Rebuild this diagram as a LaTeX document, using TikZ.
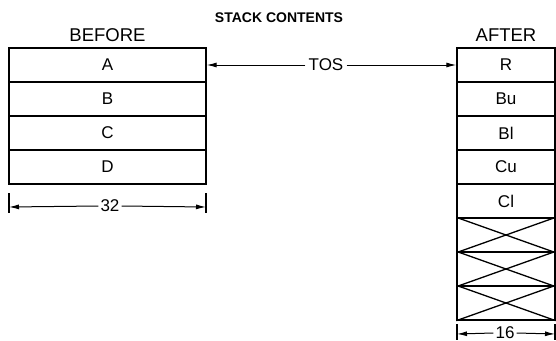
\documentclass[tikz,border=0pt]{standalone}
\usepackage{fontspec}
\setmainfont{Liberation Sans}
\usetikzlibrary{arrows.meta}
\begin{document}
\begin{tikzpicture}[x=1pt,y=-1pt,
  cell/.style={draw,line width=1.3pt,minimum height=34pt,inner sep=0pt,font=\fontsize{17}{17}\selectfont},
  wide/.style={cell,minimum width=197pt},
  narrow/.style={cell,minimum width=98pt},
  lbl/.style={font=\fontsize{18.5}{18.5}\selectfont,inner sep=0pt},
  dim/.style={font=\fontsize{17}{17}\selectfont,inner sep=2pt,fill=white},
  arr/.style={line width=1pt,-{Latex[length=10pt,width=5pt]}},
  tick/.style={line width=1.2pt}]
\useasboundingbox (0,0) rectangle (556,340);
% titles
\node[font=\bfseries\fontsize{14}{14}\selectfont,inner sep=0pt] (title) at (279,18) {STACK CONTENTS};
\node[lbl] (before) at (107.5,35) {BEFORE};
\node[lbl] (after) at (506,35) {AFTER};
% before stack
\node[wide] (A) at (107.5,65) {A};
\node[wide] (B) at (107.5,99) {B};
\node[wide] (C) at (107.5,133) {C};
\node[wide] (D) at (107.5,167) {D};
% after stack
\node[narrow] (R) at (506,65) {R};
\node[narrow] (Bu) at (506,99) {Bu};
\node[narrow] (Bl) at (506,133) {Bl};
\node[narrow] (Cu) at (506,167) {Cu};
\node[narrow] (Cl) at (506,201) {Cl};
\node[narrow] (X1) at (506,235) {};
\node[narrow] (X2) at (506,269) {};
\node[narrow] (X3) at (506,303) {};
\foreach \n in {X1,X2,X3}{
  \draw[line width=1.3pt] (\n.north west) -- (\n.south east);
  \draw[line width=1.3pt] (\n.north east) -- (\n.south west);
}
% TOS
\node[dim,inner sep=3pt] (tos) at (326,65) {TOS};
\draw[arr] (tos.west) -- (A.east);
\draw[arr] (tos.east) -- (R.west);
% dimension 32
\coordinate (t1a) at (9,193); \coordinate (t1b) at (9,213);
\coordinate (t2a) at (206,193); \coordinate (t2b) at (206,213);
\draw[tick] (t1a) -- (t1b);
\draw[tick] (t2a) -- (t2b);
\coordinate (l32) at (9,207); \coordinate (r32) at (206,207);
\node[dim] (n32) at (110,206) {32};
\draw[arr] (n32.west) -- (l32);
\draw[arr] (n32.east) -- (r32);
% dimension 16
\coordinate (t3a) at (457,324); \coordinate (t3b) at (457,340);
\coordinate (t4a) at (555,324); \coordinate (t4b) at (555,340);
\draw[tick] (t3a) -- (t3b);
\draw[tick] (t4a) -- (t4b);
\coordinate (l16) at (457,334); \coordinate (r16) at (555,334);
\node[dim] (n16) at (505,333) {16};
\draw[arr] (n16.west) -- (l16);
\draw[arr] (n16.east) -- (r16);
\end{tikzpicture}
\end{document}
